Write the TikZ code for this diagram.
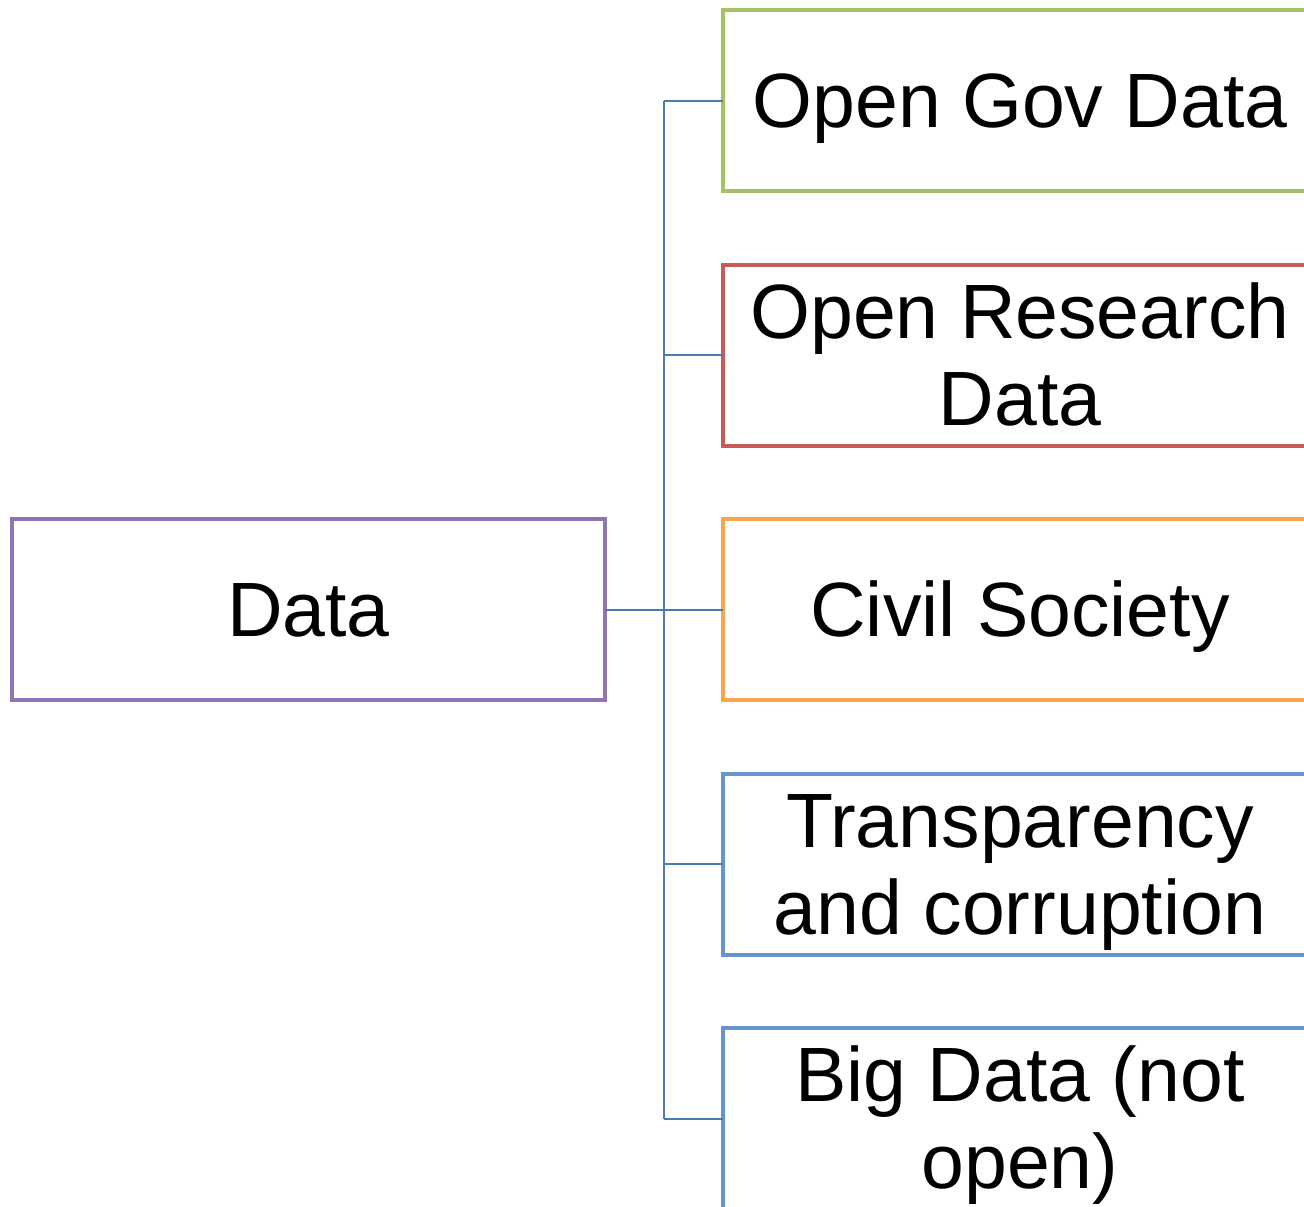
\documentclass[tikz,border=0pt]{standalone}
\usepackage{fontspec}
\setmainfont{Liberation Sans}
\definecolor{cpurple}{HTML}{8F74B0}
\definecolor{cgreen}{HTML}{A3C264}
\definecolor{cred}{HTML}{C75B57}
\definecolor{corange}{HTML}{F9A54F}
\definecolor{cblue}{HTML}{6496CD}
\definecolor{cline}{HTML}{4A7BB3}
\newcommand\mystrut{\rule[-0.212em]{0pt}{1.117em}}
\begin{document}
\begin{tikzpicture}[x=1pt,y=-1pt,
  box/.style={draw, line width=4pt, minimum width=594pt, minimum height=181pt,
    inner sep=0pt, outer sep=0pt, align=center,
    font=\fontsize{77}{83}\selectfont},
  conn/.style={draw=cline, line width=2pt}]
\useasboundingbox (0,0) rectangle (1304,1207);
\clip (0,0) rectangle (1304,1207);
\node[box, draw=cpurple, minimum width=593pt] (data) at (308.5,609.5) {\mystrut Data};
\node[box, draw=cgreen]  (b1) at (1020,100.5) {\mystrut Open Gov Data};
\node[box, draw=cred]    (b2) at (1020,355) {\mystrut Open Research\\\mystrut Data};
\node[box, draw=corange] (b3) at (1020,609.5) {\mystrut Civil Society};
\node[box, draw=cblue]   (b4) at (1020,864) {\mystrut Transparency\\\mystrut and corruption};
\node[box, draw=cblue]   (b5) at (1020,1118.5) {\mystrut Big Data (not\\\mystrut open)};
\coordinate (j) at (664,609.5);
\draw[conn] (data.east) -- (j);
\draw[conn] (j |- b1.west) -- (j |- b5.west);
\foreach \b in {b1,b2,b3,b4,b5} {
  \draw[conn] (j |- \b.west) -- (\b.west);
}
\end{tikzpicture}
\end{document}
